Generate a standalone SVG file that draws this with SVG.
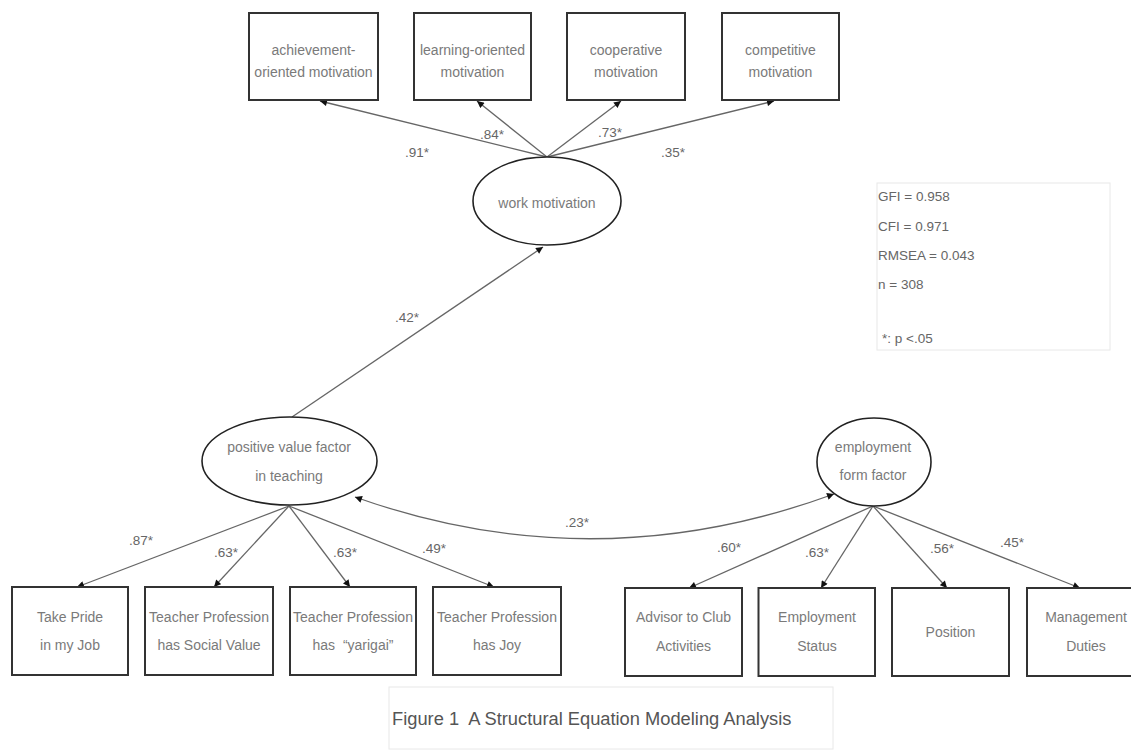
<svg xmlns="http://www.w3.org/2000/svg" width="1131" height="751" viewBox="0 0 1131 751">
<style>
.box{fill:#fff;stroke:#333;stroke-width:2}
.ell{fill:#fff;stroke:#222;stroke-width:1.6}
.t{font-family:"Liberation Sans",Arial,sans-serif;font-size:14px;fill:#7a7a7a;text-anchor:middle}
.lbl{font-family:"Liberation Sans",Arial,sans-serif;font-size:13.5px;fill:#666;text-anchor:middle}
.fit{font-family:"Liberation Sans",Arial,sans-serif;font-size:13.5px;fill:#666}
.cap{font-family:"Liberation Sans",Arial,sans-serif;font-size:18.3px;fill:#555}
.ln{fill:none;stroke:#666;stroke-width:1.3}
.frame{fill:#fff;stroke:#e8e8e8;stroke-width:1}
</style>
<defs>
<marker id="arr" viewBox="0 0 10 10" refX="10" refY="5" markerWidth="8" markerHeight="7" orient="auto-start-reverse" markerUnits="userSpaceOnUse">
<path d="M0,0 L10,5 L0,10 z" fill="#111"/>
</marker>
</defs>
<rect width="1131" height="751" fill="#fff"/>

<g id="connectors">
<line class="ln" x1="547" y1="157" x2="320" y2="101" marker-end="url(#arr)"/>
<line class="ln" x1="547" y1="157" x2="477" y2="101" marker-end="url(#arr)"/>
<line class="ln" x1="547" y1="157" x2="621" y2="101" marker-end="url(#arr)"/>
<line class="ln" x1="547" y1="157" x2="774" y2="101" marker-end="url(#arr)"/>
<line class="ln" x1="292" y1="417" x2="543" y2="247" marker-end="url(#arr)"/>
<path class="ln" d="M355,497 Q594,582 834,494" marker-start="url(#arr)" marker-end="url(#arr)"/>
<line class="ln" x1="289" y1="506" x2="77" y2="587" marker-end="url(#arr)"/>
<line class="ln" x1="289" y1="506" x2="214" y2="587" marker-end="url(#arr)"/>
<line class="ln" x1="289" y1="506" x2="350" y2="587" marker-end="url(#arr)"/>
<line class="ln" x1="289" y1="506" x2="494" y2="587" marker-end="url(#arr)"/>
<line class="ln" x1="873" y1="506" x2="689" y2="588" marker-end="url(#arr)"/>
<line class="ln" x1="873" y1="506" x2="821" y2="588" marker-end="url(#arr)"/>
<line class="ln" x1="873" y1="506" x2="947" y2="588" marker-end="url(#arr)"/>
<line class="ln" x1="873" y1="506" x2="1080" y2="588" marker-end="url(#arr)"/>
<text class="lbl" x="417" y="157">.91*</text>
<text class="lbl" x="492" y="139">.84*</text>
<text class="lbl" x="610" y="137">.73*</text>
<text class="lbl" x="673" y="157">.35*</text>
<text class="lbl" x="407" y="322">.42*</text>
<text class="lbl" x="577" y="527">.23*</text>
<text class="lbl" x="141" y="545">.87*</text>
<text class="lbl" x="226" y="557">.63*</text>
<text class="lbl" x="345" y="557">.63*</text>
<text class="lbl" x="434" y="553">.49*</text>
<text class="lbl" x="729" y="552">.60*</text>
<text class="lbl" x="817" y="557">.63*</text>
<text class="lbl" x="942" y="553">.56*</text>
<text class="lbl" x="1012" y="547">.45*</text>
</g>

<g id="achievement">
<rect class="box" x="249" y="13" width="129" height="87"/>
<text class="t" x="313.5" y="55">achievement-</text>
<text class="t" x="313.5" y="77">oriented motivation</text>
</g>
<g id="learning">
<rect class="box" x="414" y="13" width="117" height="87"/>
<text class="t" x="472.5" y="55">learning-oriented</text>
<text class="t" x="472.5" y="77">motivation</text>
</g>
<g id="cooperative">
<rect class="box" x="567" y="13" width="118" height="87"/>
<text class="t" x="626" y="55">cooperative</text>
<text class="t" x="626" y="77">motivation</text>
</g>
<g id="competitive">
<rect class="box" x="722" y="13" width="117" height="87"/>
<text class="t" x="780.5" y="55">competitive</text>
<text class="t" x="780.5" y="77">motivation</text>
</g>

<g id="work-motivation">
<ellipse class="ell" cx="547" cy="201" rx="74" ry="44"/>
<text class="t" x="547" y="208">work motivation</text>
</g>

<g id="fit-indices">
<rect class="frame" x="877" y="183" width="233" height="167"/>
<text class="fit" x="878" y="201">GFI = 0.958</text>
<text class="fit" x="878" y="231">CFI = 0.971</text>
<text class="fit" x="878" y="260">RMSEA = 0.043</text>
<text class="fit" x="878" y="289">n = 308</text>
<text class="fit" x="882" y="343">*: p &lt;.05</text>
</g>

<g id="positive-value">
<ellipse class="ell" cx="289.5" cy="461" rx="87.5" ry="44"/>
<text class="t" x="289" y="452">positive value factor</text>
<text class="t" x="289" y="481">in teaching</text>
</g>

<g id="employment-form">
<ellipse class="ell" cx="874" cy="462" rx="57" ry="44"/>
<text class="t" x="873" y="452">employment</text>
<text class="t" x="873" y="480">form factor</text>
</g>

<g id="take-pride">
<rect class="box" x="12" y="587" width="116" height="88"/>
<text class="t" x="70" y="622">Take Pride</text>
<text class="t" x="70" y="650">in my Job</text>
</g>
<g id="social-value">
<rect class="box" x="145" y="587" width="128" height="88"/>
<text class="t" x="209" y="622">Teacher Profession</text>
<text class="t" x="209" y="650">has Social Value</text>
</g>
<g id="yarigai">
<rect class="box" x="290" y="587" width="126" height="88"/>
<text class="t" x="353" y="622">Teacher Profession</text>
<text class="t" x="353" y="650" xml:space="preserve">has  “yarigai”</text>
</g>
<g id="joy">
<rect class="box" x="433" y="587" width="128" height="88"/>
<text class="t" x="497" y="622">Teacher Profession</text>
<text class="t" x="497" y="650">has Joy</text>
</g>

<g id="advisor">
<rect class="box" x="625" y="588" width="117" height="88"/>
<text class="t" x="683.5" y="622">Advisor to Club</text>
<text class="t" x="683.5" y="651">Activities</text>
</g>
<g id="employment-status">
<rect class="box" x="758.5" y="588" width="116.5" height="88"/>
<text class="t" x="817" y="622">Employment</text>
<text class="t" x="817" y="651">Status</text>
</g>
<g id="position">
<rect class="box" x="892" y="588" width="117" height="88"/>
<text class="t" x="950.5" y="637">Position</text>
</g>
<g id="management">
<rect class="box" x="1027" y="588" width="118" height="88"/>
<text class="t" x="1086" y="622">Management</text>
<text class="t" x="1086" y="651">Duties</text>
</g>

<g id="caption">
<rect class="frame" x="389" y="687" width="444" height="62"/>
<text class="cap" x="392" y="725" xml:space="preserve">Figure 1  A Structural Equation Modeling Analysis</text>
</g>
</svg>
